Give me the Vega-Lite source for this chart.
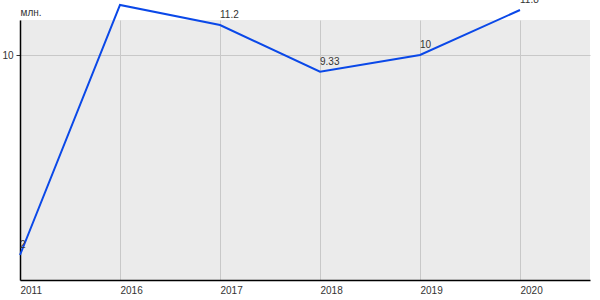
{
  "$schema": "https://vega.github.io/schema/vega-lite/v6.json",
  "width": 570,
  "height": 260,
  "autosize": {"type": "none"},
  "padding": {"left": 20, "top": 20, "right": 10, "bottom": 20},
  "background": "white",
  "config": {
    "view": {"fill": "#ebebeb", "stroke": null},
    "font": "Liberation Sans"
  },
  "data": {
    "values": [
      {"year": "2011", "value": 2},
      {"year": "2016", "value": 12},
      {"year": "2017", "value": 11.2},
      {"year": "2018", "value": 9.33},
      {"year": "2019", "value": 10},
      {"year": "2020", "value": 11.8}
    ]
  },
  "encoding": {
    "x": {
      "field": "year",
      "type": "ordinal",
      "sort": null,
      "scale": {"type": "point", "padding": 0.35, "align": 0},
      "axis": {
        "title": null,
        "labelAngle": 0,
        "labelAlign": "left",
        "labelPadding": 5,
        "labelFontSize": 10,
        "labelColor": "#333333",
        "ticks": false,
        "domainColor": "#000000",
        "domainWidth": 1.5,
        "grid": true,
        "gridColor": "#c8c8c8",
        "gridWidth": 1
      }
    },
    "y": {
      "field": "value",
      "type": "quantitative",
      "scale": {"domain": [1, 11.4], "zero": false, "nice": false},
      "axis": {
        "title": "млн.",
        "titleAngle": 0,
        "titleX": 0,
        "titleY": -4.5,
        "titleAlign": "left",
        "titleBaseline": "alphabetic",
        "titleFontSize": 10,
        "titleFontWeight": "normal",
        "titleColor": "#333333",
        "values": [10],
        "labelFontSize": 10,
        "labelColor": "#333333",
        "labelPadding": 3,
        "tickSize": 4,
        "tickColor": "#333333",
        "domainColor": "#000000",
        "domainWidth": 1.5,
        "grid": true,
        "gridColor": "#c8c8c8",
        "gridWidth": 1
      }
    }
  },
  "layer": [
    {
      "mark": {"type": "line", "color": "#0a48e8", "strokeWidth": 2}
    },
    {
      "mark": {"type": "text", "align": "left", "baseline": "alphabetic", "dy": -7, "dx": 0, "fontSize": 10, "color": "#333333"},
      "encoding": {
        "text": {"field": "value", "type": "nominal"}
      }
    }
  ]
}
